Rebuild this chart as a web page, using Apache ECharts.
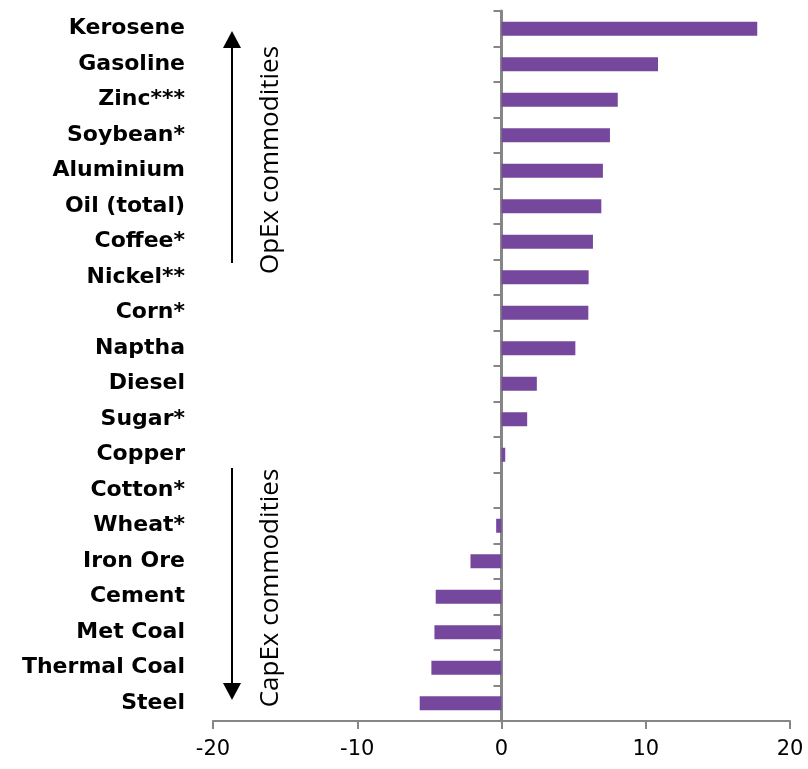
<!DOCTYPE html>
<html>
<head>
<meta charset="utf-8">
<script src="https://cdn.jsdelivr.net/npm/echarts@6/dist/echarts.min.js"></script>
<style>
  html, body { margin: 0; padding: 0; background: #fff; }
  #chart { width: 808px; height: 769px; }
</style>
</head>
<body>
<div id="chart"></div>
<script>
// Commodities, top to bottom
const commodities = [
  'Kerosene', 'Gasoline', 'Zinc***', 'Soybean*', 'Aluminium', 'Oil (total)',
  'Coffee*', 'Nickel**', 'Corn*', 'Naptha', 'Diesel', 'Sugar*', 'Copper',
  'Cotton*', 'Wheat*', 'Iron Ore', 'Cement', 'Met Coal', 'Thermal Coal', 'Steel'
];
// Change per commodity
const changes = [
  17.73, 10.85, 8.06, 7.52, 7.03, 6.92,
  6.34, 6.04, 6.02, 5.12, 2.45, 1.78, 0.26,
  0, -0.37, -2.15, -4.56, -4.65, -4.86, -5.67
];
// Value axis range and step
const xMin = -20, xMax = 20, xStep = 10;
const groupLabels = ['OpEx commodities', 'CapEx commodities'];

const axisGrey = '#868686';
const barColor = '#76489D';
const wideFont = '"DejaVu Sans", "Open Sans", sans-serif';

const chart = echarts.init(document.getElementById('chart'), null, { renderer: 'canvas' });

chart.setOption({
  animation: false,
  grid: { left: 213, right: 18, top: 11, bottom: 48, containLabel: false },
  xAxis: {
    type: 'value',
    min: xMin, max: xMax, interval: xStep,
    axisLine: { show: true, onZero: false, lineStyle: { color: axisGrey, width: 2 } },
    axisTick: { show: true, length: 8, lineStyle: { color: axisGrey, width: 2 } },
    splitLine: { show: false },
    axisLabel: { color: '#000', fontFamily: wideFont, fontSize: 21, margin: 18 }
  },
  yAxis: [
    {
      // category names along the left edge
      type: 'category', inverse: true, data: commodities, position: 'left',
      axisLine: { show: false, onZero: false },
      axisTick: { show: false },
      axisLabel: { color: '#000', fontFamily: wideFont, fontWeight: 'bold', fontSize: 22, margin: 28 }
    },
    {
      // axis line and ticks running through zero
      type: 'category', inverse: true, data: commodities, position: 'left',
      axisLine: { show: true, onZero: true, onZeroAxisIndex: 0, lineStyle: { color: axisGrey, width: 3 } },
      axisTick: { show: true, length: 8, lineStyle: { color: axisGrey, width: 2 } },
      axisLabel: { show: false }
    }
  ],
  series: [{
    type: 'bar',
    yAxisIndex: 0,
    data: changes,
    barWidth: 14,
    itemStyle: { color: barColor },
    silent: true
  }],
  graphic: [
    // OpEx arrow (pointing up)
    { type: 'line', shape: { x1: 232, y1: 263, x2: 232, y2: 46 }, style: { stroke: '#000', lineWidth: 2 } },
    { type: 'polygon', shape: { points: [[232, 31], [223, 48], [241, 48]] }, style: { fill: '#000' } },
    // CapEx arrow (pointing down)
    { type: 'line', shape: { x1: 232, y1: 468, x2: 232, y2: 685 }, style: { stroke: '#000', lineWidth: 2 } },
    { type: 'polygon', shape: { points: [[232, 700], [223, 683], [241, 683]] }, style: { fill: '#000' } },
    {
      type: 'text', x: 271, y: 160, rotation: Math.PI / 2,
      style: { text: groupLabels[0], fill: '#000', font: '26px "Open Sans", sans-serif', align: 'center', verticalAlign: 'middle' }
    },
    {
      type: 'text', x: 271, y: 588, rotation: Math.PI / 2,
      style: { text: groupLabels[1], fill: '#000', font: '26px "Open Sans", sans-serif', align: 'center', verticalAlign: 'middle' }
    }
  ]
});
</script>
</body>
</html>
